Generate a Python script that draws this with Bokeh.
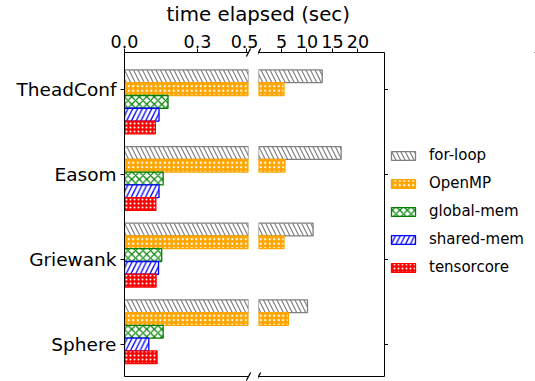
from bokeh.plotting import figure
from bokeh.models import (Range1d, FixedTicker, PrintfTickFormatter, LinearAxis, Legend,
                          LegendItem, Title, ColumnDataSource, CDSView, BooleanFilter)
from bokeh.layouts import column, row
from bokeh.embed import file_html
from bokeh.resources import INLINE
import math

# ---------------- data ----------------
categories = ["TheadConf", "Easom", "Griewank", "Sphere"]
series_names = ["for-loop", "OpenMP", "global-mem", "shared-mem", "tensorcore"]
for_loop = [13.0, 16.7, 11.2, 10.1]
openmp = [5.5, 5.7, 5.5, 6.35]
global_mem = [0.179, 0.159, 0.153, 0.159]
shared_mem = [0.142, 0.142, 0.140, 0.100]
tensorcore = [0.127, 0.129, 0.130, 0.134]
left_ticks = [0.0, 0.3, 0.5]
right_ticks = [5, 10, 15, 20]
x_label = "time elapsed (sec)"

# ---------------- layout constants ----------------
FONT = "DejaVu Sans"
BAR_H = 0.15
GROUP_STEP = 0.9
Y_TOP, Y_BOT = -0.43, 3.376
LEFT_X = (0.0, 0.51)
RIGHT_X = (0.5, 25.2)
TITLE_H = 25
TOP_B, FRAME_H, BOT_B = 27, 324, 5
FIG_H = TOP_B + FRAME_H + BOT_B
LEFT_B, LEFT_FW, GAP = 124, 124, 10
RIGHT_FW, RIGHT_AX = 126, 4
LEG_W = 147
TOTAL_W = LEFT_B + LEFT_FW + GAP + RIGHT_FW + RIGHT_AX + LEG_W

styles = [
    dict(fill_color="white", line_color="gray", hatch_pattern="left_diagonal_line",
         hatch_color="gray", hatch_scale=9, hatch_weight=1.2),
    dict(fill_color="orange", line_color="orange", hatch_pattern="dot",
         hatch_color="white", hatch_scale=4.5, hatch_weight=1.0),
    dict(fill_color="white", line_color="green", hatch_pattern="diagonal_cross",
         hatch_color="green", hatch_scale=7.5, hatch_weight=1.2),
    dict(fill_color="white", line_color="blue", hatch_pattern="right_diagonal_line",
         hatch_color="blue", hatch_scale=9.5, hatch_weight=1.3),
    dict(fill_color="red", line_color="red", hatch_pattern="dot",
         hatch_color="white", hatch_scale=4, hatch_weight=1.0),
]
values = [for_loop, openmp, global_mem, shared_mem, tensorcore]
tick_pos = list(range(len(categories)))


def make_fig(xr, side):
    is_left = side == "left"
    p = figure(x_range=Range1d(*xr), y_range=Range1d(Y_BOT, Y_TOP),
               width=(LEFT_B + LEFT_FW + GAP) if is_left else (RIGHT_FW + RIGHT_AX),
               height=FIG_H, title=None,
               x_axis_location="above", y_axis_location=side,
               toolbar_location=None, output_backend="svg",
               min_border_top=TOP_B, min_border_bottom=BOT_B,
               min_border_left=(LEFT_B if is_left else 0),
               min_border_right=(GAP if is_left else RIGHT_AX),
               outline_line_color=None)
    p.grid.visible = False
    xa = p.xaxis[0]
    xa.major_tick_out = 4
    xa.major_tick_in = 0
    xa.minor_tick_line_color = None
    xa.major_label_standoff = 1
    xa.major_label_text_font = FONT
    xa.major_label_text_font_size = "17.5px"
    xa.major_label_text_color = "black"
    ya = p.yaxis[0]
    ya.ticker = FixedTicker(ticks=tick_pos)
    ya.major_tick_out = 4
    ya.major_tick_in = 0
    ya.minor_tick_line_color = None
    ya.major_label_standoff = 4 if is_left else 0
    ya.major_label_text_font = FONT
    ya.major_label_text_font_size = "18.5px"
    ya.major_label_text_color = "black"
    bot = LinearAxis(ticker=FixedTicker(ticks=[]), major_tick_out=0, major_tick_in=0,
                     minor_tick_line_color=None, major_label_standoff=0,
                     major_label_text_font_size="0px")
    p.add_layout(bot, "below")
    return p


left = make_fig(LEFT_X, "left")
left.xaxis[0].ticker = FixedTicker(ticks=left_ticks)
left.xaxis[0].formatter = PrintfTickFormatter(format="%.1f")
left.yaxis[0].major_label_overrides = {t: c for t, c in zip(tick_pos, categories)}

right = make_fig(RIGHT_X, "right")
right.xaxis[0].ticker = FixedTicker(ticks=right_ticks)
right.xaxis[0].formatter = PrintfTickFormatter(format="%d")
right.yaxis[0].major_label_overrides = {t: "" for t in tick_pos}

# legend lives in its own small figure to the right (its ranges keep the bars out of view)
leg_fig = figure(width=LEG_W, height=FIG_H, title=None,
                 x_range=Range1d(-2, -1), y_range=Range1d(-2, -1),
                 x_axis_location=None, y_axis_location=None, toolbar_location=None,
                 output_backend="svg", min_border=0, outline_line_color=None)
leg_fig.grid.visible = False

group_pos = [g * GROUP_STEP for g in range(len(categories))]
items = []
for i, (name, vals, st) in enumerate(zip(series_names, values, styles)):
    ys = [gp + (i - 1) * BAR_H for gp in group_pos]
    src = ColumnDataSource(dict(y=ys, right=vals))
    left.hbar(y="y", left=0, right="right", height=BAR_H, source=src, line_width=1.3, **st)
    view = CDSView(filter=BooleanFilter([v > RIGHT_X[0] for v in vals]))
    right.hbar(y="y", left=0, right="right", height=BAR_H, source=src, view=view,
               line_width=1.3, **st)
    r = leg_fig.hbar(y="y", left=0, right="right", height=BAR_H, source=src,
                     line_width=1.3, **st)
    items.append(LegendItem(label=name, renderers=[r], index=0))

legend = Legend(items=items, location=(0, 100), orientation="vertical",
                glyph_width=30, glyph_height=11, label_standoff=11, spacing=10,
                padding=0, margin=0, border_line_color=None, background_fill_alpha=0,
                label_text_font=FONT, label_text_font_size="15px", label_height=18,
                label_text_color="black")
leg_fig.add_layout(legend)

# axis-break marks ("//") at the frame edges
SL_ANGLE = math.atan2(4.0, 2.2)
lux = (LEFT_X[1] - LEFT_X[0]) / LEFT_FW
left.scatter(x=[LEFT_X[1], LEFT_X[1], LEFT_X[1] + GAP * lux, LEFT_X[1] + GAP * lux],
             y=[Y_TOP, Y_BOT, Y_TOP, Y_BOT], marker="dash", size=9, angle=SL_ANGLE,
             line_color="black", line_width=1.3, level="overlay")
right.scatter(x=[RIGHT_X[0], RIGHT_X[0]], y=[Y_TOP, Y_BOT], marker="dash", size=9,
              angle=SL_ANGLE, line_color="black", line_width=1.3, level="overlay")

title_fig = figure(width=TOTAL_W, height=TITLE_H,
                   title=Title(text=x_label, align="left", offset=166, standoff=0,
                               vertical_align="bottom", text_font=FONT,
                               text_font_size="19.8px", text_font_style="normal",
                               text_color="black"),
                   x_range=Range1d(0, 1), y_range=Range1d(0, 1),
                   x_axis_location=None, y_axis_location=None, toolbar_location=None,
                   output_backend="svg", min_border=0, outline_line_color=None)
title_fig.grid.visible = False

layout = column(title_fig, row(left, right, leg_fig))
open("out.html", "w").write(file_html(layout, INLINE))
